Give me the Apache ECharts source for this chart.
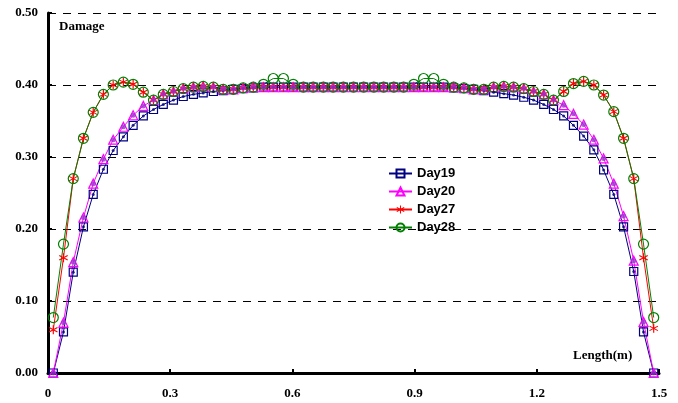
<!DOCTYPE html>
<html>
<head>
<meta charset="utf-8">
<script src="https://cdn.jsdelivr.net/npm/echarts@6/dist/echarts.min.js"></script>
<style>
  html, body { margin: 0; padding: 0; background: #fff; }
  #chart { width: 678px; height: 403px; }
</style>
</head>
<body>
<div id="chart"></div>
<script>
// Positions along the member (m)
const lengths = [
  0.013, 0.038, 0.062, 0.087, 0.111, 0.136, 0.160, 0.185, 0.209, 0.234,
  0.259, 0.283, 0.308, 0.332, 0.357, 0.381, 0.406, 0.430, 0.455, 0.479,
  0.504, 0.529, 0.553, 0.578, 0.602, 0.627, 0.651, 0.676, 0.700, 0.725,
  0.750, 0.775, 0.800, 0.824, 0.849, 0.873, 0.898, 0.922, 0.947, 0.971,
  0.996, 1.021, 1.045, 1.070, 1.094, 1.119, 1.143, 1.168, 1.192, 1.217,
  1.241, 1.266, 1.290, 1.315, 1.340, 1.364, 1.389, 1.413, 1.438, 1.462,
  1.487
];

// Damage values per day
const day19 = [
  0.000, 0.057, 0.140, 0.203, 0.248, 0.283, 0.309, 0.328, 0.344, 0.357,
  0.366, 0.373, 0.379, 0.384, 0.387, 0.389, 0.391, 0.392, 0.394, 0.395,
  0.396, 0.397, 0.397, 0.397, 0.397, 0.397, 0.397, 0.397, 0.397, 0.397,
  0.397, 0.397, 0.397, 0.397, 0.397, 0.397, 0.397, 0.397, 0.397, 0.397,
  0.396, 0.395, 0.394, 0.392, 0.390, 0.388, 0.386, 0.383, 0.379, 0.373,
  0.366, 0.357, 0.344, 0.329, 0.310, 0.282, 0.248, 0.203, 0.141, 0.057,
  0.000
];
const day20 = [
  0.000, 0.070, 0.154, 0.216, 0.263, 0.297, 0.324, 0.342, 0.358, 0.371,
  0.379, 0.387, 0.391, 0.395, 0.397, 0.398, 0.397, 0.394, 0.394, 0.396,
  0.397, 0.397, 0.397, 0.397, 0.397, 0.397, 0.397, 0.397, 0.397, 0.397,
  0.397, 0.397, 0.397, 0.397, 0.397, 0.397, 0.397, 0.397, 0.397, 0.397,
  0.397, 0.396, 0.394, 0.394, 0.397, 0.398, 0.397, 0.395, 0.391, 0.387,
  0.379, 0.372, 0.360, 0.345, 0.324, 0.298, 0.263, 0.218, 0.156, 0.071,
  0.000
];
const day27 = [
  0.060, 0.160, 0.270, 0.326, 0.362, 0.387, 0.400, 0.404, 0.401, 0.390,
  0.379, 0.387, 0.391, 0.395, 0.397, 0.398, 0.397, 0.394, 0.394, 0.396,
  0.397, 0.397, 0.397, 0.397, 0.397, 0.397, 0.397, 0.397, 0.397, 0.397,
  0.397, 0.397, 0.397, 0.397, 0.397, 0.397, 0.397, 0.397, 0.397, 0.397,
  0.397, 0.396, 0.394, 0.394, 0.397, 0.398, 0.397, 0.395, 0.391, 0.387,
  0.379, 0.391, 0.402, 0.405, 0.400, 0.386, 0.363, 0.326, 0.270, 0.160,
  0.062
];
const day28 = [
  0.077, 0.179, 0.270, 0.326, 0.362, 0.387, 0.400, 0.404, 0.401, 0.390,
  0.379, 0.387, 0.391, 0.395, 0.397, 0.398, 0.397, 0.394, 0.394, 0.396,
  0.397, 0.401, 0.409, 0.409, 0.401, 0.397, 0.397, 0.397, 0.397, 0.397,
  0.397, 0.397, 0.397, 0.397, 0.397, 0.397, 0.401, 0.409, 0.409, 0.401,
  0.397, 0.396, 0.394, 0.394, 0.397, 0.398, 0.397, 0.395, 0.391, 0.387,
  0.379, 0.391, 0.402, 0.405, 0.400, 0.386, 0.363, 0.326, 0.270, 0.179,
  0.077
];

const seriesNames = ['Day19', 'Day20', 'Day27', 'Day28'];
const xTicks = { min: 0, max: 1.5, step: 0.3 };
const yTicks = { min: 0, max: 0.5, step: 0.1 };

// six-armed asterisk built from three filled bars
const asterisk = 'path://M-0.6,-5L0.6,-5L0.6,5L-0.6,5Z' +
  'M-4.03,-3.02L4.63,1.98L4.03,3.02L-4.63,-1.98Z' +
  'M4.63,-1.98L-4.03,3.02L-4.63,1.98L4.03,-3.02Z';

const pairs = (ys) => lengths.map((x, i) => [x, ys[i]]);
const serif = 'Liberation Serif, Times New Roman, serif';

function lineSeries(name, ys, color, symbol, size, hollow) {
  return {
    name: name,
    type: 'line',
    data: pairs(ys),
    symbol: symbol,
    symbolSize: size,
    showAllSymbol: true,
    clip: false,
    lineStyle: { color: color, width: 1 },
    itemStyle: hollow
      ? { color: 'rgba(255,255,255,0)', borderColor: color, borderWidth: 1.2 }
      : { color: color, borderWidth: 0 },
    emphasis: { disabled: true }
  };
}

function dotSeries(ys, color, size) {
  return {
    type: 'scatter',
    data: pairs(ys),
    symbol: 'circle',
    symbolSize: size,
    itemStyle: { color: color },
    clip: false,
    silent: true,
    z: 5
  };
}

const chart = echarts.init(document.getElementById('chart'));
chart.setOption({
  animation: false,
  backgroundColor: '#fff',
  grid: { left: 48, right: 19, top: 13, bottom: 30, outerBoundsMode: 'none' },
  xAxis: {
    type: 'value',
    min: xTicks.min, max: xTicks.max, interval: xTicks.step,
    axisLine: { lineStyle: { color: '#000', width: 3 } },
    axisTick: { inside: true, length: 4, lineStyle: { color: '#000', width: 2 } },
    axisLabel: {
      margin: 14, color: '#000', fontFamily: serif, fontWeight: 'bold', fontSize: 13,
      formatter: (v) => (v === 0 ? '0' : v.toFixed(1))
    },
    splitLine: { show: false }
  },
  yAxis: {
    type: 'value',
    min: yTicks.min, max: yTicks.max, interval: yTicks.step,
    axisLine: { show: true, lineStyle: { color: '#000', width: 3 } },
    axisTick: { show: true, inside: true, length: 4, lineStyle: { color: '#000', width: 2 } },
    axisLabel: {
      margin: 10, color: '#000', fontFamily: serif, fontWeight: 'bold', fontSize: 13,
      formatter: (v) => v.toFixed(2)
    },
    splitLine: { show: true, lineStyle: { color: '#000', width: 1, type: [8, 7] } }
  },
  legend: {
    data: seriesNames,
    orient: 'vertical',
    left: 383,
    top: 162,
    itemWidth: 23,
    itemHeight: 10,
    itemGap: 5,
    textStyle: { color: '#000', fontFamily: 'Liberation Sans, Arial, sans-serif', fontWeight: 'bold', fontSize: 13 }
  },
  graphic: [
    { type: 'text', left: 59, top: 20,
      style: { text: 'Damage', fill: '#000', font: 'bold 13px ' + serif } },
    { type: 'text', left: 573, top: 349,
      style: { text: 'Length(m)', fill: '#000', font: 'bold 13px ' + serif } }
  ],
  series: [
    lineSeries('Day19', day19, '#000080', 'rect', 8, true),
    lineSeries('Day20', day20, '#ff00ff', 'triangle', 9, true),
    lineSeries('Day27', day27, '#ff0000', asterisk, 9, false),
    lineSeries('Day28', day28, '#008000', 'circle', 10, true),
    dotSeries(day19, '#000080', 3),
    dotSeries(day20, '#9933cc', 5)
  ]
});
</script>
</body>
</html>
